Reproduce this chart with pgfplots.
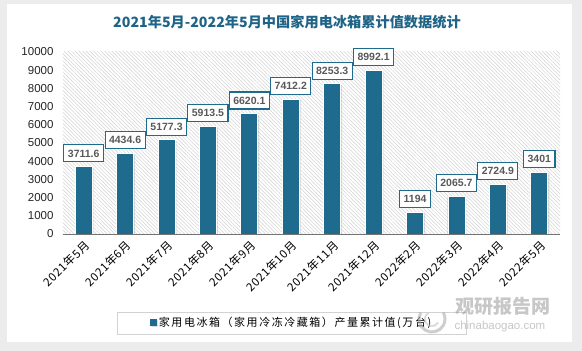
\documentclass[border=0pt]{standalone}
\usepackage{fontspec}
\setmainfont{Liberation Sans}
\newfontfamily\cjk{Noto Sans CJK SC}
\usepackage{pgfplots}
\usepackage{pgfplotstable}
\pgfplotsset{compat=1.18}
\usetikzlibrary{patterns.meta,shadows}
\definecolor{bar}{RGB}{30,107,142}
\definecolor{ttl}{RGB}{31,100,135}

\pgfplotstableread{
x y lab
0 3711.6 3711.6
1 4434.6 4434.6
2 5177.3 5177.3
3 5913.5 5913.5
4 6620.1 6620.1
5 7412.2 7412.2
6 8253.3 8253.3
7 8992.1 8992.1
8 1194 1194
9 2065.7 2065.7
10 2724.9 2724.9
11 3401 3401
}\datatable

\begin{document}
\begin{tikzpicture}[x=1pt,y=1pt]
\fill[gray!15] (0,0) rectangle (582,351);
\fill[white] (7,9) rectangle (572,347);
\node[font=\cjk\bfseries\fontsize{14.2}{16}\selectfont, text=ttl] at (287,329) {2021年5月-2022年5月中国家用电冰箱累计值数据统计};
\begin{axis}[
  at={(63pt,117pt)}, anchor=south west,
  scale only axis, width=497pt, height=182pt,
  xmin=-0.5, xmax=11.5, ymin=0, ymax=10000,
  separate axis lines,
  axis x line*=bottom, axis y line*=left,
  x axis line style={draw=gray!90!black, line width=0.8pt, -},
  y axis line style={draw=none},
  major tick length=0pt,
  ytick={0,1000,...,10000},
  scaled y ticks=false,
  /pgf/number format/assume math mode=true,
  yticklabel style={/pgf/number format/.cd, fixed, 1000 sep={}, /tikz/.cd, font=\fontsize{11.5}{13}\selectfont, text=black!85, xshift=-6pt},
  xtick=data,
  xticklabels={2021年5月,2021年6月,2021年7月,2021年8月,2021年9月,2021年10月,2021年11月,2021年12月,2022年2月,2022年3月,2022年4月,2022年5月},
  xticklabel style={font=\cjk\fontsize{11.5}{13}\selectfont\addfontfeature{LetterSpace=6}, rotate=45, anchor=east, xshift=0pt, yshift=-9pt},
  axis background/.style={pattern={Lines[angle=-45,distance=2.6pt,line width=0.5pt]}, pattern color=gray!35},
  ybar, bar width=17pt,
  nodes near coords,
  point meta=explicit symbolic,
  nodes near coords style={draw=bar, fill=white, line width=1.1pt, font=\bfseries\fontsize{10.5}{12}\selectfont, text=black!65, inner xsep=4pt, minimum height=17pt, inner ysep=2pt, yshift=4pt, anchor=south},
  legend style={at={(0.46,-0.489)}, anchor=center, draw=gray!35, line width=0.8pt, inner xsep=33pt, inner ysep=3.5pt, font=\cjk\fontsize{11}{13}\selectfont\addfontfeature{LetterSpace=14}},
  legend image code/.code={\fill[bar, draw=none] (0pt,-3.5pt) rectangle (7pt,3.5pt);},
]
\addplot[fill=bar, draw=white, line width=0.8pt, drop shadow={shadow xshift=1.5pt, shadow yshift=-1pt, opacity=0.25}] table[x=x, y=y, meta=lab] {\datatable};
\addlegendentry{家用电冰箱（家用冷冻冷藏箱）产量累计值(万台)}
\end{axis}
\begin{scope}[opacity=0.55]
\draw[gray!70, line width=3pt] (432,32) ++(150:13) arc (150:390:13);
\draw[gray!50, line width=2pt] (432,32) ++(120:7) arc (120:330:7);
\node[font=\cjk\bfseries\fontsize{19}{20}\selectfont, text=gray!80, anchor=west] at (452,45) {观研报告网};
\node[font=\fontsize{11.5}{13}\selectfont, text=gray!80, anchor=west] at (451,24) {chinabaogao.com};
\end{scope}
\end{tikzpicture}
\end{document}
